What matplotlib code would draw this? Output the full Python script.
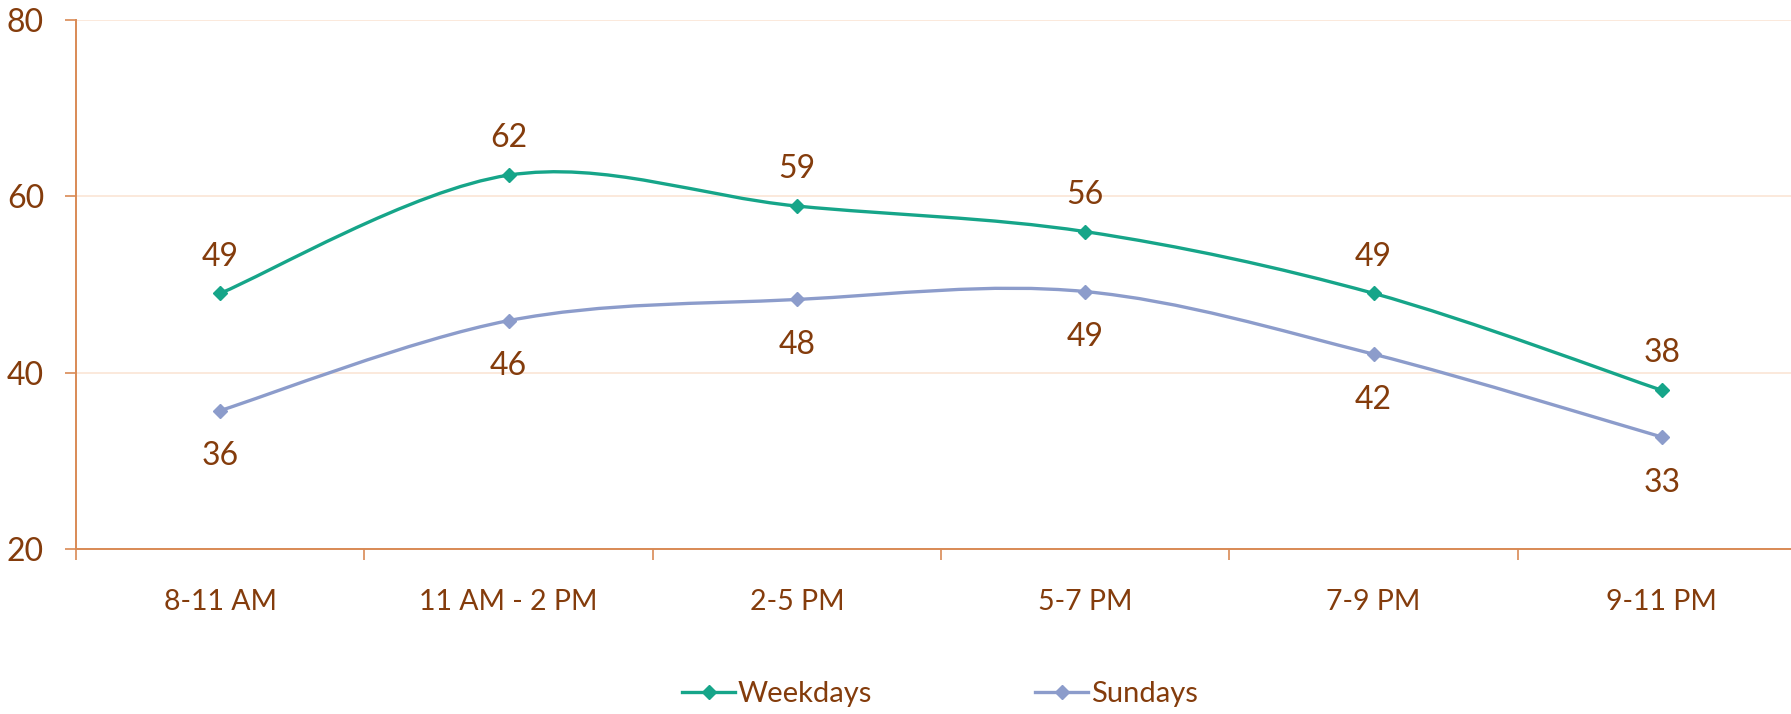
import matplotlib
matplotlib.use("Agg")
import matplotlib.pyplot as plt
import numpy as np
from matplotlib.path import Path
from matplotlib.patches import PathPatch
from matplotlib.lines import Line2D

categories = ["8-11 AM", "11 AM - 2 PM", "2-5 PM", "5-7 PM", "7-9 PM", "9-11 PM"]
weekdays = [49.0, 62.4, 58.9, 56.0, 49.0, 38.0]
sundays = [35.7, 45.9, 48.3, 49.2, 42.1, 32.7]
yticks = [20, 40, 60, 80]

TEAL = "#16A589"
LAV = "#8C9CCB"
BROWN = "#843C0C"
AXIS = "#D98A55"
GRID = "#FBE5D6"

plt.rcParams["font.family"] = ["Lato", "DejaVu Sans"]

fig = plt.figure(figsize=(17.91, 7.14), dpi=100)
ax = fig.add_axes([76 / 1791, 1 - 549 / 714, 1730 / 1791, 529 / 714])


def smooth_path(xs, ys):
    # Excel-style smoothed line: cubic Bezier through each point
    pts = np.column_stack([xs, ys])
    verts = [pts[0]]
    codes = [Path.MOVETO]
    n = len(pts)
    for i in range(n - 1):
        p0 = pts[i - 1] if i > 0 else pts[i]
        p1, p2 = pts[i], pts[i + 1]
        p3 = pts[i + 2] if i + 2 < n else pts[i + 1]
        c1 = p1 + (p2 - p0) / 6
        c2 = p2 - (p3 - p1) / 6
        verts += [c1, c2, p2]
        codes += [Path.CURVE4] * 3
    return Path(verts, codes)


x = np.arange(len(categories))
for vals, col, dy in [(weekdays, TEAL, 26.5), (sundays, LAV, -33)]:
    ax.add_patch(PathPatch(smooth_path(x, vals), fill=False, edgecolor=col,
                           lw=2.4, zorder=3))
    ax.plot(x, vals, ls="none", marker="D", ms=7, color=col, zorder=4)
    for xi, v in zip(x, vals):
        ax.annotate(f"{v:.0f}", (xi, v), xytext=(0, dy),
                    textcoords="offset points", ha="center", va="center",
                    fontsize=23, color=BROWN)

ax.set_xlim(-0.5, len(categories) - 0.5)
ax.set_ylim(20, 80)
ax.set_yticks(yticks)
ax.set_xticks(x)
ax.set_xticklabels(categories)
ax.set_xticks(np.arange(-0.5, len(categories)), minor=True)
ax.tick_params(axis="x", which="major", length=0, pad=29, labelsize=20.5,
               labelcolor=BROWN)
ax.tick_params(axis="x", which="minor", length=8, width=1.2, color=AXIS,
               direction="out")
ax.tick_params(axis="y", length=8, width=1.2, color=AXIS, pad=15,
               labelsize=23, labelcolor=BROWN)
ax.grid(axis="y", color=GRID, lw=1.2, zorder=0)
for s in ["top", "right"]:
    ax.spines[s].set_visible(False)
for s in ["left", "bottom"]:
    ax.spines[s].set_color(AXIS)
    ax.spines[s].set_linewidth(1.4)

handles = [Line2D([], [], color=TEAL, lw=2.4, marker="D", ms=7),
           Line2D([], [], color=LAV, lw=2.4, marker="D", ms=7)]
fig.legend(handles, ["Weekdays", "Sundays"], loc="center",
           bbox_to_anchor=(940 / 1791, 1 - 694 / 714), ncol=2, frameon=False,
           fontsize=21, labelcolor=BROWN, handlelength=1.8, handletextpad=0.1,
           columnspacing=5.6)

fig.savefig("out.png", dpi=100)
